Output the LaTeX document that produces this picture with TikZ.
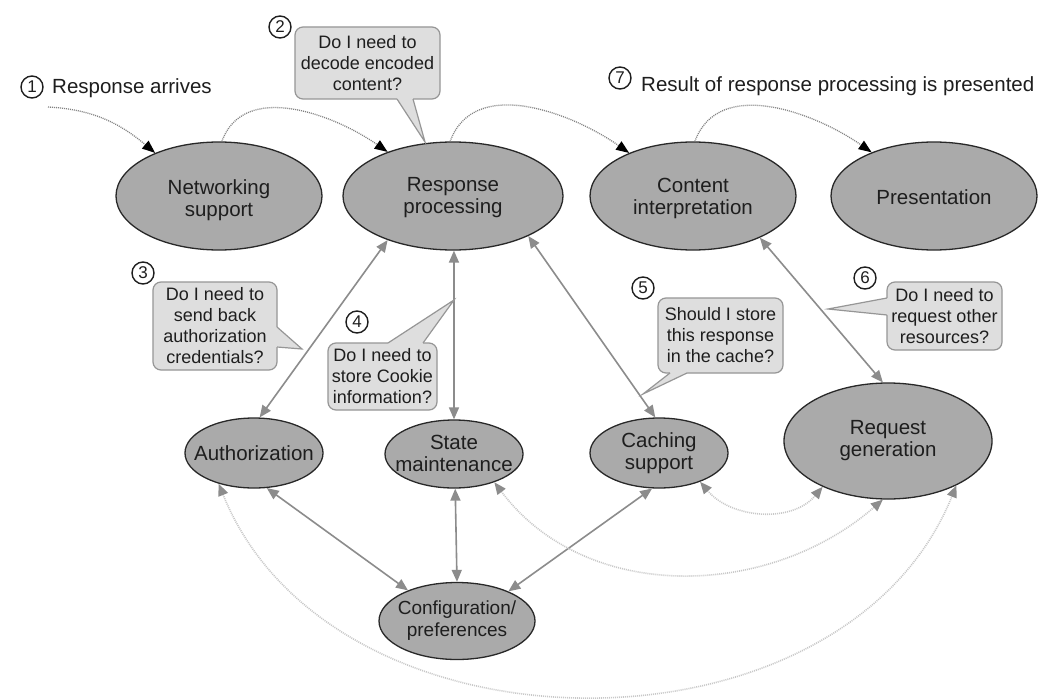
\documentclass[tikz,border=0pt]{standalone}
\usepackage{fontspec}
\setmainfont{Liberation Sans}
\usetikzlibrary{shapes.geometric,arrows.meta,calc}
\definecolor{nodefill}{RGB}{170,170,170}
\definecolor{nodeline}{RGB}{40,40,40}
\definecolor{bubfill}{RGB}{222,222,222}
\definecolor{bubline}{RGB}{150,150,150}
\definecolor{linkgray}{RGB}{140,140,140}
\definecolor{dotgray}{RGB}{130,130,130}
\definecolor{lightdot}{RGB}{200,200,200}
\definecolor{txt}{RGB}{30,30,30}
\begin{document}
\begin{tikzpicture}[x=1pt,y=-1pt,
  comp/.style={ellipse, draw=nodeline, fill=nodefill, line width=1.3pt, inner sep=0pt},
  nodetext/.style={align=center, text=txt, inner sep=0pt, font=\fontsize{20.5}{22}\selectfont},
  bubble/.style={rectangle, rounded corners=8pt, draw=bubline, fill=bubfill, line width=1.2pt, align=center, inner sep=0pt, text=txt, font=\fontsize{18}{21}\selectfont},
  ptrfill/.style={fill=bubfill},
  ptrline/.style={draw=bubline, line width=1.2pt, line join=miter},
  num/.style={circle, draw=txt, line width=1.4pt, inner sep=0pt, minimum size=22pt, text=txt, font=\fontsize{17}{17}\selectfont},
  headtext/.style={text=txt, inner sep=0pt, font=\fontsize{20.5}{22}\selectfont},
  link/.style={draw=linkgray, line width=1.6pt, {Triangle[length=12pt,width=10pt]}-{Triangle[length=12pt,width=10pt]}},
  flow/.style={draw=dotgray, line width=1.3pt, dash pattern=on 1pt off 1pt, -{Triangle[length=13pt,width=10pt,color=black]}},
  faint/.style={draw=lightdot, line width=1.6pt, dash pattern=on 1pt off 1pt, {Triangle[length=12pt,width=10pt,color=linkgray]}-{Triangle[length=12pt,width=10pt,color=linkgray]}}
]
\useasboundingbox (0,0) rectangle (1059,698);
\fill[white] (0,0) rectangle (1059,698);

% components
\node[comp, minimum width=206pt, minimum height=108pt] (net) at (219,196) {};
\node[comp, minimum width=220pt, minimum height=108pt] (resp) at (453,196) {};
\node[comp, minimum width=206pt, minimum height=108pt] (cont) at (693,196) {};
\node[comp, minimum width=206pt, minimum height=108pt] (pres) at (934,196) {};
\node[comp, minimum width=138pt, minimum height=70pt] (auth) at (254,453) {};
\node[comp, minimum width=138pt, minimum height=68pt] (state) at (454,454) {};
\node[comp, minimum width=138pt, minimum height=70pt] (cach) at (659,453) {};
\node[comp, minimum width=208pt, minimum height=116pt] (req) at (888,441) {};
\node[comp, minimum width=156pt, minimum height=77pt] (conf) at (457,621) {};

\node[nodetext] (nett) at (219,200) {Networking\\support};
\node[nodetext] (respt) at (453,198) {Response\\processing};
\node[nodetext] (contt) at (693,198) {Content\\interpretation};
\node[nodetext] (prest) at (934,197) {Presentation};
\node[nodetext] (autht) at (254,453) {Authorization};
\node[nodetext] (statet) at (454,453) {State\\maintenance};
\node[nodetext] (cacht) at (659,453) {Caching\\support};
\node[nodetext] (reqt) at (888,441) {Request\\generation};
\node[nodetext, font=\fontsize{19}{22}\selectfont] (conft) at (457,621) {Configuration/\\preferences};

% top flow
\coordinate (start) at (48,107);
\draw[flow] (start) to[out=-3,in=140] (net.146);
\draw[flow] (net.87) to[out=70,in=145] (resp.146);
\draw[flow] (resp.93) to[out=70,in=145] (cont.146);
\draw[flow] (cont.88) to[out=70,in=145] (pres.145);

% solid links
\draw[link] (auth.81) -- (resp.214);
\draw[link] (state.north) -- (resp.-89);
\draw[link] (cach.96) -- (resp.-28);
\draw[link] (cont.-32) -- (req.95);
\draw[link] (auth.-70) -- (conf.148);
\draw[link] (state.-88) -- (conf.north);
\draw[link] (cach.-101) -- (conf.30);

% faint links
\draw[faint] (cach.-35) to[out=-50,in=-130] (req.215);
\draw[faint] (state.-35) to[out=-53,in=-139] (req.-95);
\draw[faint] (auth.-139) to[out=-68,in=-112,looseness=1.05] (req.-33);

% bubbles
\node[bubble, minimum width=145pt, minimum height=72pt] (b2) at (367.5,63) {Do I need to\\decode encoded\\content?};
\fill[ptrfill] (397,95) -- (397,99) -- (425,142) -- (413,99) -- (413,95) -- cycle;
\draw[ptrline] (397,99) -- (425,142) -- (413,99);

\node[bubble, minimum width=124pt, minimum height=88pt] (b3) at (215,326) {Do I need to\\send back\\authorization\\credentials?};
\fill[ptrfill] (273,327) -- (277,327) -- (302,349) -- (277,347) -- (273,347) -- cycle;
\draw[ptrline] (277,327) -- (302,349) -- (277,347);

\node[bubble, minimum width=109pt, minimum height=67pt] (b4) at (382.5,376.5) {Do I need to\\store Cookie\\information?};
\fill[ptrfill] (388,347) -- (388,343) -- (454,300) -- (423,343) -- (423,347) -- cycle;
\draw[ptrline] (388,343) -- (454,300) -- (423,343);

\node[bubble, minimum width=125pt, minimum height=75pt] (b5) at (720.5,335.5) {Should I store\\this response\\in the cache?};
\fill[ptrfill] (670,369) -- (670,373) -- (643,394) -- (687,373) -- (687,369) -- cycle;
\draw[ptrline] (670,373) -- (643,394) -- (687,373);

\node[bubble, minimum width=115pt, minimum height=68pt] (b6) at (944.5,316) {Do I need to\\request other\\resources?};
\fill[ptrfill] (891,298) -- (887,298) -- (828,309) -- (887,315) -- (891,315) -- cycle;
\draw[ptrline] (887,298) -- (828,309) -- (887,315);

% numbers and captions
\node[num] (n1) at (32,87) {1};
\node[num] (n2) at (280,27) {2};
\node[num] (n3) at (143,273) {3};
\node[num] (n4) at (357,322) {4};
\node[num] (n5) at (643,288) {5};
\node[num] (n6) at (865,278) {6};
\node[num] (n7) at (620,78) {7};
\node[headtext, anchor=west] (t1) at (52,88) {Response arrives};
\node[headtext, anchor=west] (t7) at (641,86) {Result of response processing is presented};
\end{tikzpicture}
\end{document}
